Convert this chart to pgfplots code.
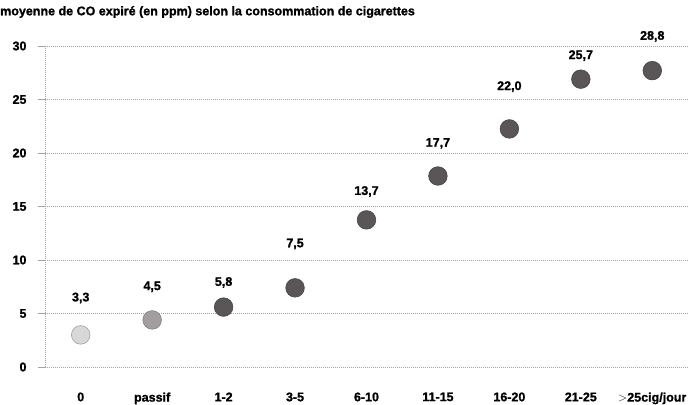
\documentclass[border=0pt]{standalone}
\usepackage{fontspec}
\setmainfont{Liberation Sans}[BoldFeatures={FakeBold=1.2}]
\usepackage{pgfplots}
\pgfplotsset{compat=1.18}
\usepackage{pgfplotstable}
\definecolor{dotdark}{HTML}{5A5557}
\definecolor{dotmid}{HTML}{A29E9E}
\definecolor{dotlight}{HTML}{D9D7D7}
\definecolor{gridc}{HTML}{A89F9F}
\pgfplotstableread{
x y
0 3.0
}\tzero
\pgfplotstableread{
x y
1 4.4
}\tpassif
\pgfplotstableread{
x y
2 5.6
3 7.4
4 13.75
5 17.85
6 22.25
7 26.9
8 27.7
}\tsmokers
\pgfplotstableread{
x y lab
0 6.45 3,3
1 7.5 4,5
2 7.9 5,8
3 11.5 7,5
4 16.4 13,7
5 20.9 17,7
6 26.2 22,0
7 29.1 25,7
8 30.9 28,8
}\tlabels
\begin{document}
\begin{tikzpicture}
\begin{axis}[
  at={(0,0)}, anchor=south west,
  scale only axis, width=643bp, height=321bp,
  xmin=-0.5, xmax=8.5, ymin=0, ymax=30,
  clip=false,
  axis x line*=bottom, axis y line*=left,
  axis line style={gridc, dash pattern=on 1.2bp off 0.8bp, line width=0.8bp, -},
  ymajorgrids, grid style={gridc, dash pattern=on 1.2bp off 0.8bp, line width=0.8bp},
  ytick={0,5,...,30},
  tick align=outside,
  tick style={gridc, line width=0.8bp},
  major tick length=7bp,
  xtick={0,...,8},
  xticklabels={0,passif,1-2,3-5,6-10,11-15,16-20,21-25,{$>$25cig/jour}},
  x tick style={draw=none},
  extra x ticks={0.5,1.5,...,7.5},
  extra x tick labels={},
  extra x tick style={grid=none, major tick length=9bp, tick style={draw=gridc, line width=0.8bp}},
  xticklabel style={font=\fontsize{12.5bp}{14bp}\selectfont\bfseries, yshift=-15bp},
  yticklabel style={font=\fontsize{12.5bp}{14bp}\selectfont\bfseries, xshift=-8bp},
  /pgf/number format/assume math mode=true,
]
\addplot[only marks, mark=*, mark size=9.3bp, mark options={fill=dotlight, draw=gridc, line width=0.6bp}] table {\tzero};
\addplot[only marks, mark=*, mark size=9.3bp, mark options={fill=dotmid, draw=gray, line width=0.6bp}] table {\tpassif};
\addplot[only marks, mark=*, mark size=9.3bp, mark options={fill=dotdark, draw=dotdark!80!black, line width=0.6bp}] table {\tsmokers};
\addplot[draw=none, mark=none, nodes near coords, point meta=explicit symbolic,
  nodes near coords align=center,
  every node near coord/.append style={font=\fontsize{12.5bp}{14bp}\selectfont\bfseries, anchor=center, inner sep=0pt}]
  table[meta=lab] {\tlabels};
\end{axis}
\node[anchor=west, inner sep=0pt, font=\fontsize{12.5bp}{14bp}\selectfont\bfseries] at (-45bp,355bp) {moyenne de CO expiré (en ppm) selon la consommation de cigarettes};
\pgfresetboundingbox
\path[use as bounding box] (-45bp,-38bp) rectangle (645bp,367bp);
\end{tikzpicture}
\end{document}
